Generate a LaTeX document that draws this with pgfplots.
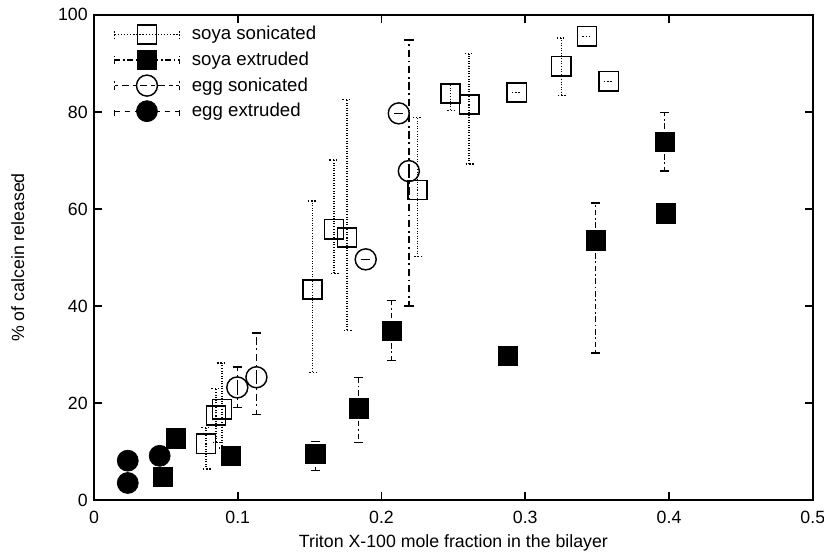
\documentclass[border=0pt]{standalone}
\usepackage{fontspec}
\setmainfont{Liberation Sans}
\usepackage{pgfplots}
\pgfplotsset{compat=1.18}
\usetikzlibrary{calc}

% legend sample: styled line with end caps and the marker in the middle
\pgfplotsset{errleg/.style={legend image code/.code={
  \draw[#1, line width=0.7pt] (0cm,0cm) -- (1.25cm,0cm);
  \draw[#1, line width=0.7pt] (0cm,-2.4pt)--(0cm,2.4pt) (1.25cm,-2.4pt)--(1.25cm,2.4pt);
  \draw[##1, mark repeat=2, mark phase=2] plot coordinates {(0cm,0cm)(0.625cm,0cm)(1.25cm,0cm)};
  \path (1.42cm,0cm);}}}

\begin{document}
\fontsize{9.8}{11.5}\selectfont
\begin{tikzpicture}
\begin{axis}[
    scale only axis,
    width=13.96cm, height=9.42cm,
    xmin=0, xmax=0.5, ymin=0, ymax=100,
    xtick={0,0.1,0.2,0.3,0.4,0.5},
    ytick={0,20,40,60,80,100},
    xticklabels={0,0.1,0.2,0.3,0.4,0.5},
    /pgf/number format/assume math mode=true,
    tick align=inside,
    major tick length=0.16cm,
    axis line style={line width=1.1pt},
    tick style={line width=1pt, black},
    xticklabel style={yshift=-0.1cm},
    xlabel={Triton X-100 mole fraction in the bilayer},
    xlabel style={yshift=0.02cm},
    ylabel={\% of calcein released},
    ylabel style={yshift=0.42cm},
    legend style={draw=none, fill=none, at={(rel axis cs:0.02,0.992)}, anchor=north west,
        row sep=1.2pt, font=\fontsize{10.3}{12}\selectfont},
    legend cell align=left,
]
\coordinate (O) at (rel axis cs:0,0);

% soya sonicated
\addplot[only marks, mark=square, mark size=5.3pt, mark options={line width=0.8pt, solid},
    errleg={densely dotted},
    error bars/.cd, y dir=both, y explicit,
    error bar style={densely dotted, line width=0.8pt},
    error mark options={rotate=90, mark size=2.6pt, densely dotted, line width=0.8pt}
] coordinates {
 (0.078,11.6) += (0,3.3) -= (0,5.2)
 (0.085,17.4) += (0,5.6) -= (0,5.6)
 (0.089,18.7) += (0,9.5) -= (0,8.0)
 (0.152,43.4) += (0,18.2) -= (0,17.1)
 (0.167,55.8) += (0,14.3) -= (0,9.1)
 (0.176,54.1) += (0,28.5) -= (0,19.2)
 (0.225,63.9) += (0,14.9) -= (0,13.7)
 (0.248,83.8) += (0,2.1) -= (0,3.5)
 (0.261,81.5) += (0,10.5) -= (0,12.2)
 (0.294,84.0) +- (0,0)
 (0.325,89.4) += (0,5.8) -= (0,6.0)
 (0.343,95.6) +- (0,0)
 (0.358,86.3) +- (0,0)
};
\addlegendentry{soya sonicated}

% soya extruded
\addplot[only marks, mark=square*, mark size=5.3pt, mark options={solid, fill=black},
    errleg={dash pattern=on 3pt off 1.5pt on 1pt off 1.5pt},
    error bars/.cd, y dir=both, y explicit,
    error bar style={dash pattern=on 3pt off 1.5pt on 1pt off 1.5pt, line width=0.8pt},
    error mark options={rotate=90, mark size=2.6pt, solid, line width=0.7pt}
] coordinates {
 (0.048,4.8) +- (0,0)
 (0.057,12.7) +- (0,0)
 (0.095,9.1) +- (0,0)
 (0.154,9.5) += (0,2.5) -= (0,3.5)
 (0.184,18.9) += (0,6.4) -= (0,7.1)
 (0.207,34.9) += (0,6.2) -= (0,6.1)
 (0.288,29.7) +- (0,0)
 (0.349,53.5) += (0,7.7) -= (0,23.2)
 (0.398,59.1) +- (0,0)
 (0.397,73.9) += (0,6.0) -= (0,6.1)
};
\addlegendentry{soya extruded}

% egg sonicated
\addplot[only marks, mark=o, mark size=5.8pt, mark options={line width=0.8pt, solid},
    errleg={dash pattern=on 2pt off 2pt on 4pt off 2pt},
    error bars/.cd, y dir=both, y explicit,
    error bar style={dash pattern=on 4pt off 2pt on 1pt off 2pt, line width=0.8pt},
    error mark options={rotate=90, mark size=2.6pt, solid, line width=0.7pt}
] coordinates {
 (0.0997,23.2) += (0,4.2) -= (0,4.1)
 (0.113,25.3) += (0,9.1) -= (0,7.7)
 (0.189,49.6) +- (0,0)
 (0.212,79.7) +- (0,0)
 (0.219,67.8) += (0,27.0) -= (0,27.8)
};
\addlegendentry{egg sonicated}

% egg extruded
\addplot[only marks, mark=*, mark size=5.8pt, mark options={solid, fill=black},
    errleg={dash pattern=on 3pt off 2.5pt}
] coordinates {
 (0.0235,8.1)
 (0.0235,3.5)
 (0.0457,9.1)
};
\addlegendentry{egg extruded}
\end{axis}
\pgfresetboundingbox
\path[use as bounding box] ($(O)+(-1.825cm,-1.010cm)$) rectangle ($(O)+(14.177cm,9.709cm)$);
\end{tikzpicture}
\end{document}
